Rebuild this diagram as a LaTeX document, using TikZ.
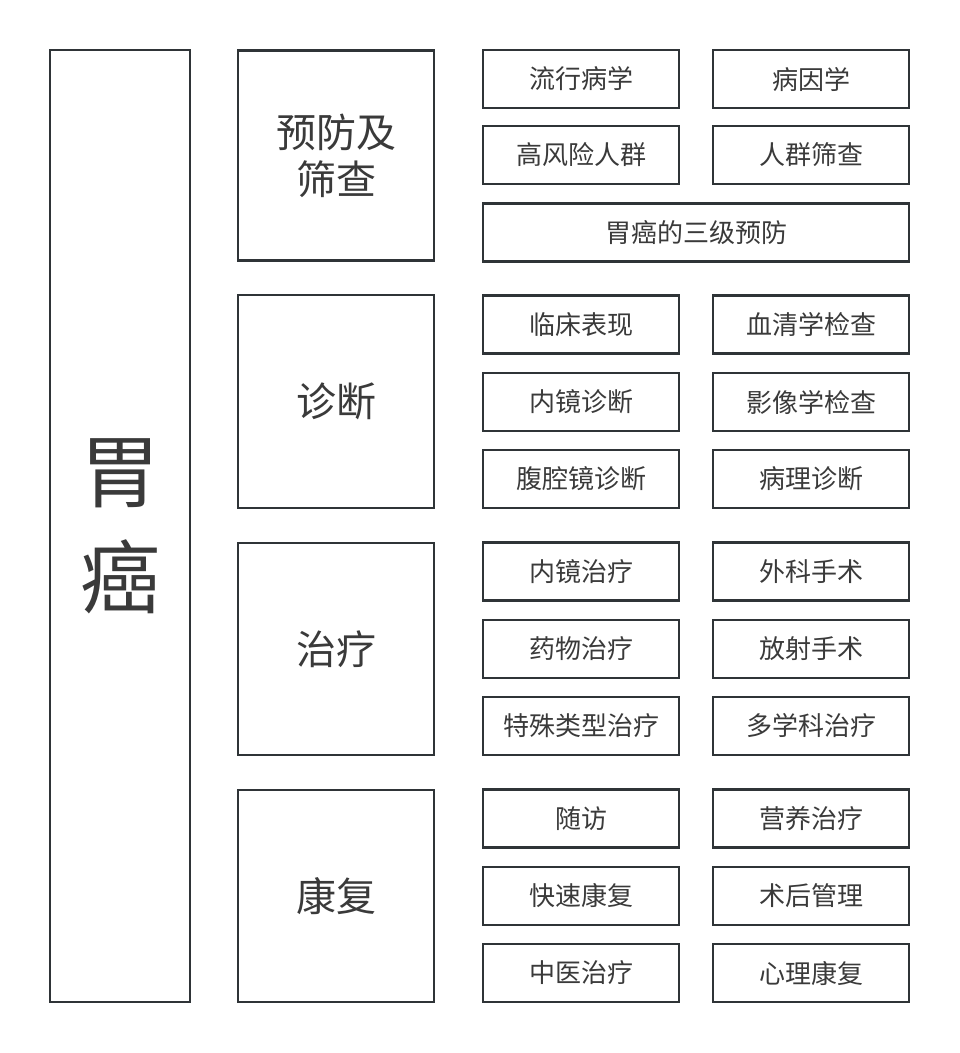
\documentclass[tikz,border=0pt]{standalone}
\usepackage{fontspec}
\setmainfont{Noto Sans CJK SC}
\usetikzlibrary{positioning}
\definecolor{boxline}{HTML}{2F3437}
\definecolor{boxtext}{HTML}{3A3A3A}

\tikzset{
    leaf/.style={draw=boxline,line width=2.6pt,minimum width=196pt,minimum height=58pt,
        inner sep=0pt,text=boxtext,font=\fontsize{26}{30}\selectfont},
    wideleaf/.style={leaf,minimum width=426pt},
    cat/.style={draw=boxline,line width=2.6pt,minimum width=196pt,inner sep=0pt,
        text=boxtext,align=center,font=\fontsize{40}{47}\selectfont}
}

\begin{document}
\begin{tikzpicture}[x=1pt,y=-1pt]
        \useasboundingbox (0,0) rectangle (960,1053);

        % main title
        \node[draw=boxline,line width=2.6pt,minimum width=140pt,minimum height=952pt,
            inner sep=0pt,text=boxtext,align=center,
            font=\fontsize{80}{106}\selectfont] (gastric) at (120,526) {胃\\癌};

        % categories
        \begin{scope}[every node/.style={cat}]
            \node[minimum height=210pt] (prev) at (336,155.5) {预防及\\筛查};
            \node[minimum height=213pt] (diag) at (336,401.5) {诊断};
            \node[minimum height=212pt] (treat) at (336,649) {治疗};
            \node[minimum height=212pt] (rehab) at (336,896) {康复};
        \end{scope}

        % prevention
        \node[leaf] (epi) at (581,79) {流行病学};
        \node[leaf] (cause) at (811,79) {病因学};
        \node[leaf] (risk) at (581,155) {高风险人群};
        \node[leaf] (screen) at (811,155) {人群筛查};
        \node[wideleaf] (threelv) at (696,232.5) {胃癌的三级预防};

        % diagnosis
        \node[leaf] (clinic) at (581,324.5) {临床表现};
        \node[leaf] (serum) at (811,324.5) {血清学检查};
        \node[leaf] (endodx) at (581,402) {内镜诊断};
        \node[leaf] (imaging) at (811,402) {影像学检查};
        \node[leaf] (lapdx) at (581,479) {腹腔镜诊断};
        \node[leaf] (patho) at (811,479) {病理诊断};

        % treatment
        \node[leaf] (endotx) at (581,571.5) {内镜治疗};
        \node[leaf] (surgery) at (811,571.5) {外科手术};
        \node[leaf] (drug) at (581,649) {药物治疗};
        \node[leaf] (radio) at (811,649) {放射手术};
        \node[leaf] (special) at (581,726) {特殊类型治疗};
        \node[leaf] (multi) at (811,726) {多学科治疗};

        % rehabilitation
        \node[leaf] (follow) at (581,818.5) {随访};
        \node[leaf] (nutri) at (811,818.5) {营养治疗};
        \node[leaf] (fast) at (581,896) {快速康复};
        \node[leaf] (postop) at (811,896) {术后管理};
        \node[leaf] (tcm) at (581,973) {中医治疗};
        \node[leaf] (psych) at (811,973) {心理康复};
\end{tikzpicture}
\end{document}
